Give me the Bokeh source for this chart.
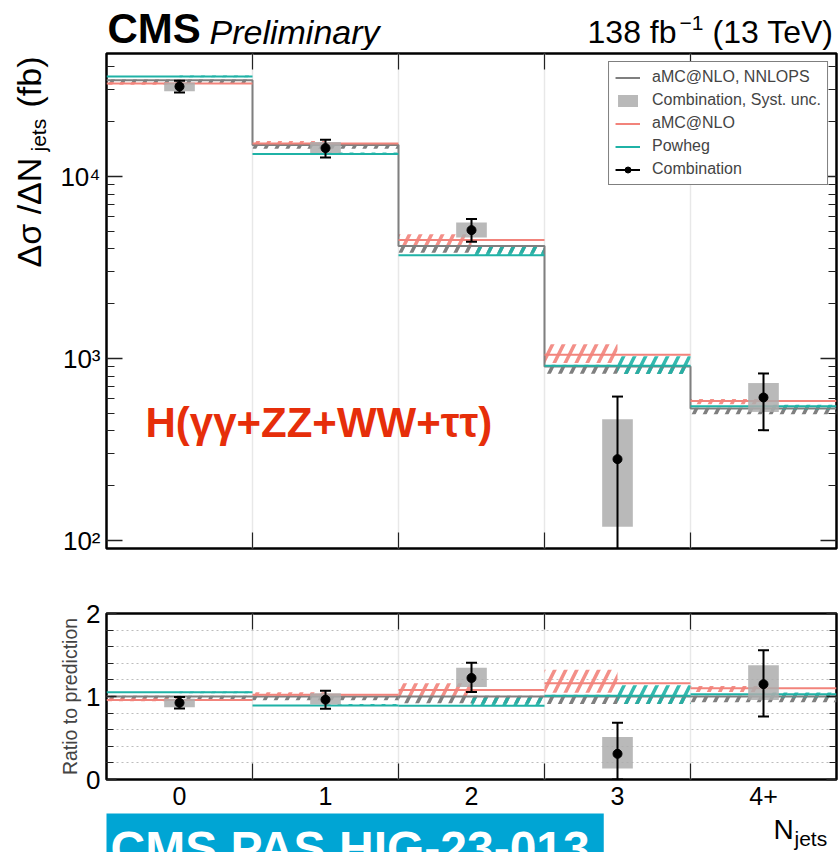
import numpy as np
from bokeh.plotting import figure
from bokeh.layouts import column, row
from bokeh.models import FixedTicker, LogAxis, LinearAxis, Label, Legend, LegendItem, Range1d
from bokeh.embed import file_html
from bokeh.resources import INLINE

# ---------------- data ----------------
bins = ["0", "1", "2", "3", "4+"]
xsec = [31230, 14330, 5076, 280, 611]          # Combination, fb
tot_up = [2340, 1580, 760, 338, 217]
tot_dn = [2290, 1620, 700, 280, 207]
syst_up = [1630, 1160, 510, 184, 122]
syst_dn = [1800, 880, 450, 161, 102]
nnlops = [33800, 14900, 4150, 905, 532]        # aMC@NLO, NNLOPS
nnlops_up = [0.01, 0.01, 0.01, 0.02, 0.01]
nnlops_dn = [0.045, 0.045, 0.08, 0.09, 0.07]
amcnlo = [32400, 15200, 4480, 1050, 585]       # aMC@NLO
amcnlo_up = [0.02, 0.03, 0.075, 0.14, 0.025]
amcnlo_dn = [0.015, 0.01, 0.07, 0.10, 0.04]
powheg = [35500, 13300, 3690, 914, 547]        # Powheg
powheg_up = [0.01, 0.02, 0.11, 0.125, 0.02]
powheg_dn = [0.01, 0.0, 0.0, 0.10, 0.046]
major_log_ticks = [100, 1000, 10000]
ratio_ticks = [0, 1, 2]

# ---------------- styles ----------------
FONT = "Liberation Sans"
GREY = "#7f7f7f"
PINK = "#f2837b"
TEAL = "#1fb2a6"
BOXC = "#adadad"
HALF = 0.105
K = 0.38   # baseline correction factor for labels

edges = np.arange(len(bins) + 1, dtype=float)
lo, hi = edges[:-1], edges[1:]
ctr = (lo + hi) / 2

d = np.array(xsec, float)
ref = np.array(nnlops, float)


def style_axis(ax, ticks, size="26px", labels=True):
    ax.axis_line_color = None
    ax.major_tick_line_color = "#222222"
    ax.minor_tick_line_color = "#222222"
    ax.major_tick_line_width = 1.5
    ax.minor_tick_line_width = 1.2
    ax.major_tick_out = 0
    ax.minor_tick_out = 0
    ax.major_label_text_font = FONT
    ax.major_label_text_color = "black"
    ax.major_label_text_font_size = size
    if not labels:
        ax.major_label_overrides = {float(t): "" for t in ticks}
        ax.major_label_standoff = 0


def x_axes(p, labels):
    tick = FixedTicker(ticks=list(ctr), minor_ticks=list(edges[1:-1]))
    ax = p.xaxis[0]
    ax.ticker = tick
    style_axis(ax, ctr, "25px" if labels else "1px", labels)
    if labels:
        ax.major_label_overrides = {float(c): b for c, b in zip(ctr, bins)}
        ax.major_label_standoff = 7
    ax.major_tick_in = 0
    ax.minor_tick_in = 16
    top = LinearAxis(ticker=tick)
    style_axis(top, ctr, "1px", False)
    top.major_tick_in = 0
    top.minor_tick_in = 16
    p.add_layout(top, "above")
    p.xgrid.ticker = FixedTicker(ticks=list(edges[1:-1]))
    p.xgrid.grid_line_color = "#e8e8e8"
    p.xgrid.grid_line_width = 1.5


def base_fig(yr, log, fh, left, top, bottom):
    p = figure(frame_width=730, frame_height=fh, x_range=Range1d(0, 5), y_range=yr,
               y_axis_type="log" if log else "linear", output_backend="svg",
               toolbar_location=None, min_border_left=left, min_border_right=2,
               min_border_top=top, min_border_bottom=bottom)
    p.outline_line_color = "black"
    p.outline_line_width = 2.5
    p.background_fill_color = "white"
    p.border_fill_color = "white"
    return p


def deco_fig(w, h):
    p = figure(width=w, height=h, x_range=Range1d(0, 1), y_range=Range1d(0, 1),
               x_axis_location=None, y_axis_location=None, toolbar_location=None,
               output_backend="svg", min_border=0)
    p.outline_line_color = None
    p.grid.visible = False
    p.background_fill_color = "white"
    p.border_fill_color = "white"
    return p


def draw_predictions(p, scale):
    nn = ref / scale
    am = np.array(amcnlo, float) / scale
    pw = np.array(powheg, float) / scale
    hs = dict(fill_color=None, line_color=None, hatch_pattern="/", hatch_weight=3.5, hatch_scale=22)
    p.quad(left=lo, right=hi, bottom=nn * (1 - np.array(nnlops_dn)), top=nn * (1 + np.array(nnlops_up)),
           hatch_color=GREY, **hs)
    p.quad(left=lo, right=ctr, bottom=am * (1 - np.array(amcnlo_dn)), top=am * (1 + np.array(amcnlo_up)),
           hatch_color=PINK, hatch_alpha=0.9, **hs)
    p.quad(left=ctr, right=hi, bottom=pw * (1 - np.array(powheg_dn)), top=pw * (1 + np.array(powheg_up)),
           hatch_color=TEAL, hatch_alpha=0.9, **hs)
    r_nn = p.step(x=edges, y=np.append(nn, nn[-1]), mode="after", line_color=GREY, line_width=2)
    r_am = p.segment(x0=lo, x1=hi, y0=am, y1=am, line_color=PINK, line_width=2)
    r_pw = p.segment(x0=lo, x1=hi, y0=pw, y1=pw, line_color=TEAL, line_width=2)
    return r_nn, r_am, r_pw


def draw_data(p, scale, floor):
    v = d / scale
    r_box = p.quad(left=ctr - HALF, right=ctr + HALF,
                   bottom=(d - np.array(syst_dn)) / scale, top=(d + np.array(syst_up)) / scale,
                   fill_color=BOXC, fill_alpha=0.85, line_color=None)
    y_hi = (d + np.array(tot_up)) / scale
    y_lo = np.maximum((d - np.array(tot_dn)) / scale, floor)
    r_err = p.segment(x0=ctr, x1=ctr, y0=y_lo, y1=y_hi, line_color="black", line_width=2)
    p.scatter(x=ctr, y=y_hi, marker="dash", size=11, line_color="black", line_width=2)
    p.scatter(x=ctr, y=y_lo, marker="dash", size=11, line_color="black", line_width=2)
    r_pt = p.scatter(x=ctr, y=v, marker="circle", size=9, color="black")
    return r_box, r_err, r_pt


def lab(p, x, y, size, rot=False, **kw):
    base = dict(x_units="canvas", y_units="canvas", text_font=FONT, text_color="black",
                text_baseline="alphabetic", text_font_size=f"{size}px")
    if rot:
        base.update(x=x - K * size, y=y, angle=np.pi / 2)
    else:
        base.update(x=x, y=y - K * size)
    base.update(kw)
    p.add_layout(Label(**base))


# vertical layout (window pixels)
H0 = 50          # header strip
P1_TOP, P1_BOT = 3, 30
P2_TOP, P2_BOT = 35, 34
YLW = 55         # strip left of the top panel
ROW1 = P1_TOP + 495 + P1_BOT
ROW2 = P2_TOP + 166 + P2_BOT
H3 = 852 - H0 - ROW1 - ROW2

# ---------------- header ----------------
p0 = deco_fig(838, H0)
lab(p0, 107, 44, 42, text="CMS", text_font_style="bold")
lab(p0, 209, 44, 34, text="Preliminary", text_font_style="italic")
lab(p0, 676, 44, 32, text="138 fb", text_align="right")
lab(p0, 679, 30, 21, text="−1")
lab(p0, 833, 44, 32, text="(13 TeV)", text_align="right")

# ---------------- y label strip ----------------
yl = deco_fig(YLW, ROW1)
lab(yl, 41, 267 - H0, 34, rot=True, text="Δσ /ΔN")
lab(yl, 46, 151 - H0, 21, rot=True, text="jets")
lab(yl, 41, 107 - H0, 34, rot=True, text="(fb)")

# ---------------- top panel ----------------
p1 = base_fig(Range1d(90.4, 47430), True, 495, 106 - YLW, P1_TOP, P1_BOT)
x_axes(p1, False)
logtick = FixedTicker(ticks=major_log_ticks,
                      minor_ticks=[k * 10 ** e for e in (1, 2, 3, 4) for k in range(2, 10)])
ly = p1.yaxis[0]
ly.ticker = logtick
style_axis(ly, major_log_ticks, "26px", True)
ly.major_label_overrides = {100: "10²", 1000: "10³", 10000: "10⁴"}
ly.major_label_standoff = 6
ly.major_tick_in = 16
ly.minor_tick_in = 8
ry = LogAxis(ticker=logtick)
style_axis(ry, major_log_ticks, "10px", False)
ry.major_tick_in = 16
ry.minor_tick_in = 8
p1.add_layout(ry, "right")
p1.ygrid.visible = False

r_nn, r_am, r_pw = draw_predictions(p1, 1.0)
r_box, r_err, r_pt = draw_data(p1, 1.0, 1.0)

legend = Legend(items=[
    LegendItem(label="aMC@NLO, NNLOPS", renderers=[r_nn]),
    LegendItem(label="Combination, Syst. unc.", renderers=[r_box]),
    LegendItem(label="aMC@NLO", renderers=[r_am]),
    LegendItem(label="Powheg", renderers=[r_pw]),
    LegendItem(label="Combination", renderers=[r_err, r_pt]),
], location="top_right", margin=8, padding=6, spacing=5, glyph_width=25, glyph_height=15,
    label_height=15, label_standoff=12, label_text_font=FONT, label_text_font_size="16px",
    border_line_color="black", border_line_width=1, background_fill_color="white",
    background_fill_alpha=1.0)
p1.add_layout(legend)

# red label inside the frame: canvas coords of p1
lab(p1, 145 - YLW, 438 - H0, 42, text="H(γγ+ZZ+WW+ττ)", text_font_style="bold",
    text_color="#e62e0a")

# ---------------- ratio panel ----------------
p2 = base_fig(Range1d(0, 2), False, 166, 106, P2_TOP, P2_BOT)
x_axes(p2, True)
rtick = FixedTicker(ticks=ratio_ticks, minor_ticks=[round(0.2 * i, 1) for i in range(1, 10)])
ay = p2.yaxis[0]
ay.ticker = rtick
style_axis(ay, ratio_ticks, "26px", True)
ay.major_label_standoff = 6
ay.major_tick_in = 10
ay.minor_tick_in = 7
ay.axis_label = "Ratio to prediction"
ay.axis_label_text_font = FONT
ay.axis_label_text_font_style = "normal"
ay.axis_label_text_font_size = "19.5px"
ay.axis_label_standoff = 2
ar = LinearAxis(ticker=rtick)
style_axis(ar, ratio_ticks, "10px", False)
ar.major_tick_in = 10
ar.minor_tick_in = 7
p2.add_layout(ar, "right")
p2.ygrid.ticker = FixedTicker(ticks=[round(0.2 * i, 1) for i in range(1, 10)])
p2.ygrid.grid_line_color = "#bdbdbd"
p2.ygrid.grid_line_dash = "2 3"
p2.ygrid.grid_line_width = 1

draw_predictions(p2, ref)
draw_data(p2, ref, -1.0)

# ---------------- footer ----------------
y3 = 852 - H3
p3 = deco_fig(838, H3)
lab(p3, 773, 840 - y3, 28, text="N")
lab(p3, 794, 846 - y3, 21, text="jets")
lab(p3, 96, 866 - y3, 48, text="CMS PAS HIG-23-013", text_font_style="bold", text_color="white",
    background_fill_color="#00a5d4", padding=14)

layout = column(p0, row(yl, p1), p2, p3)
open("out.html", "w").write(file_html(layout, INLINE))
